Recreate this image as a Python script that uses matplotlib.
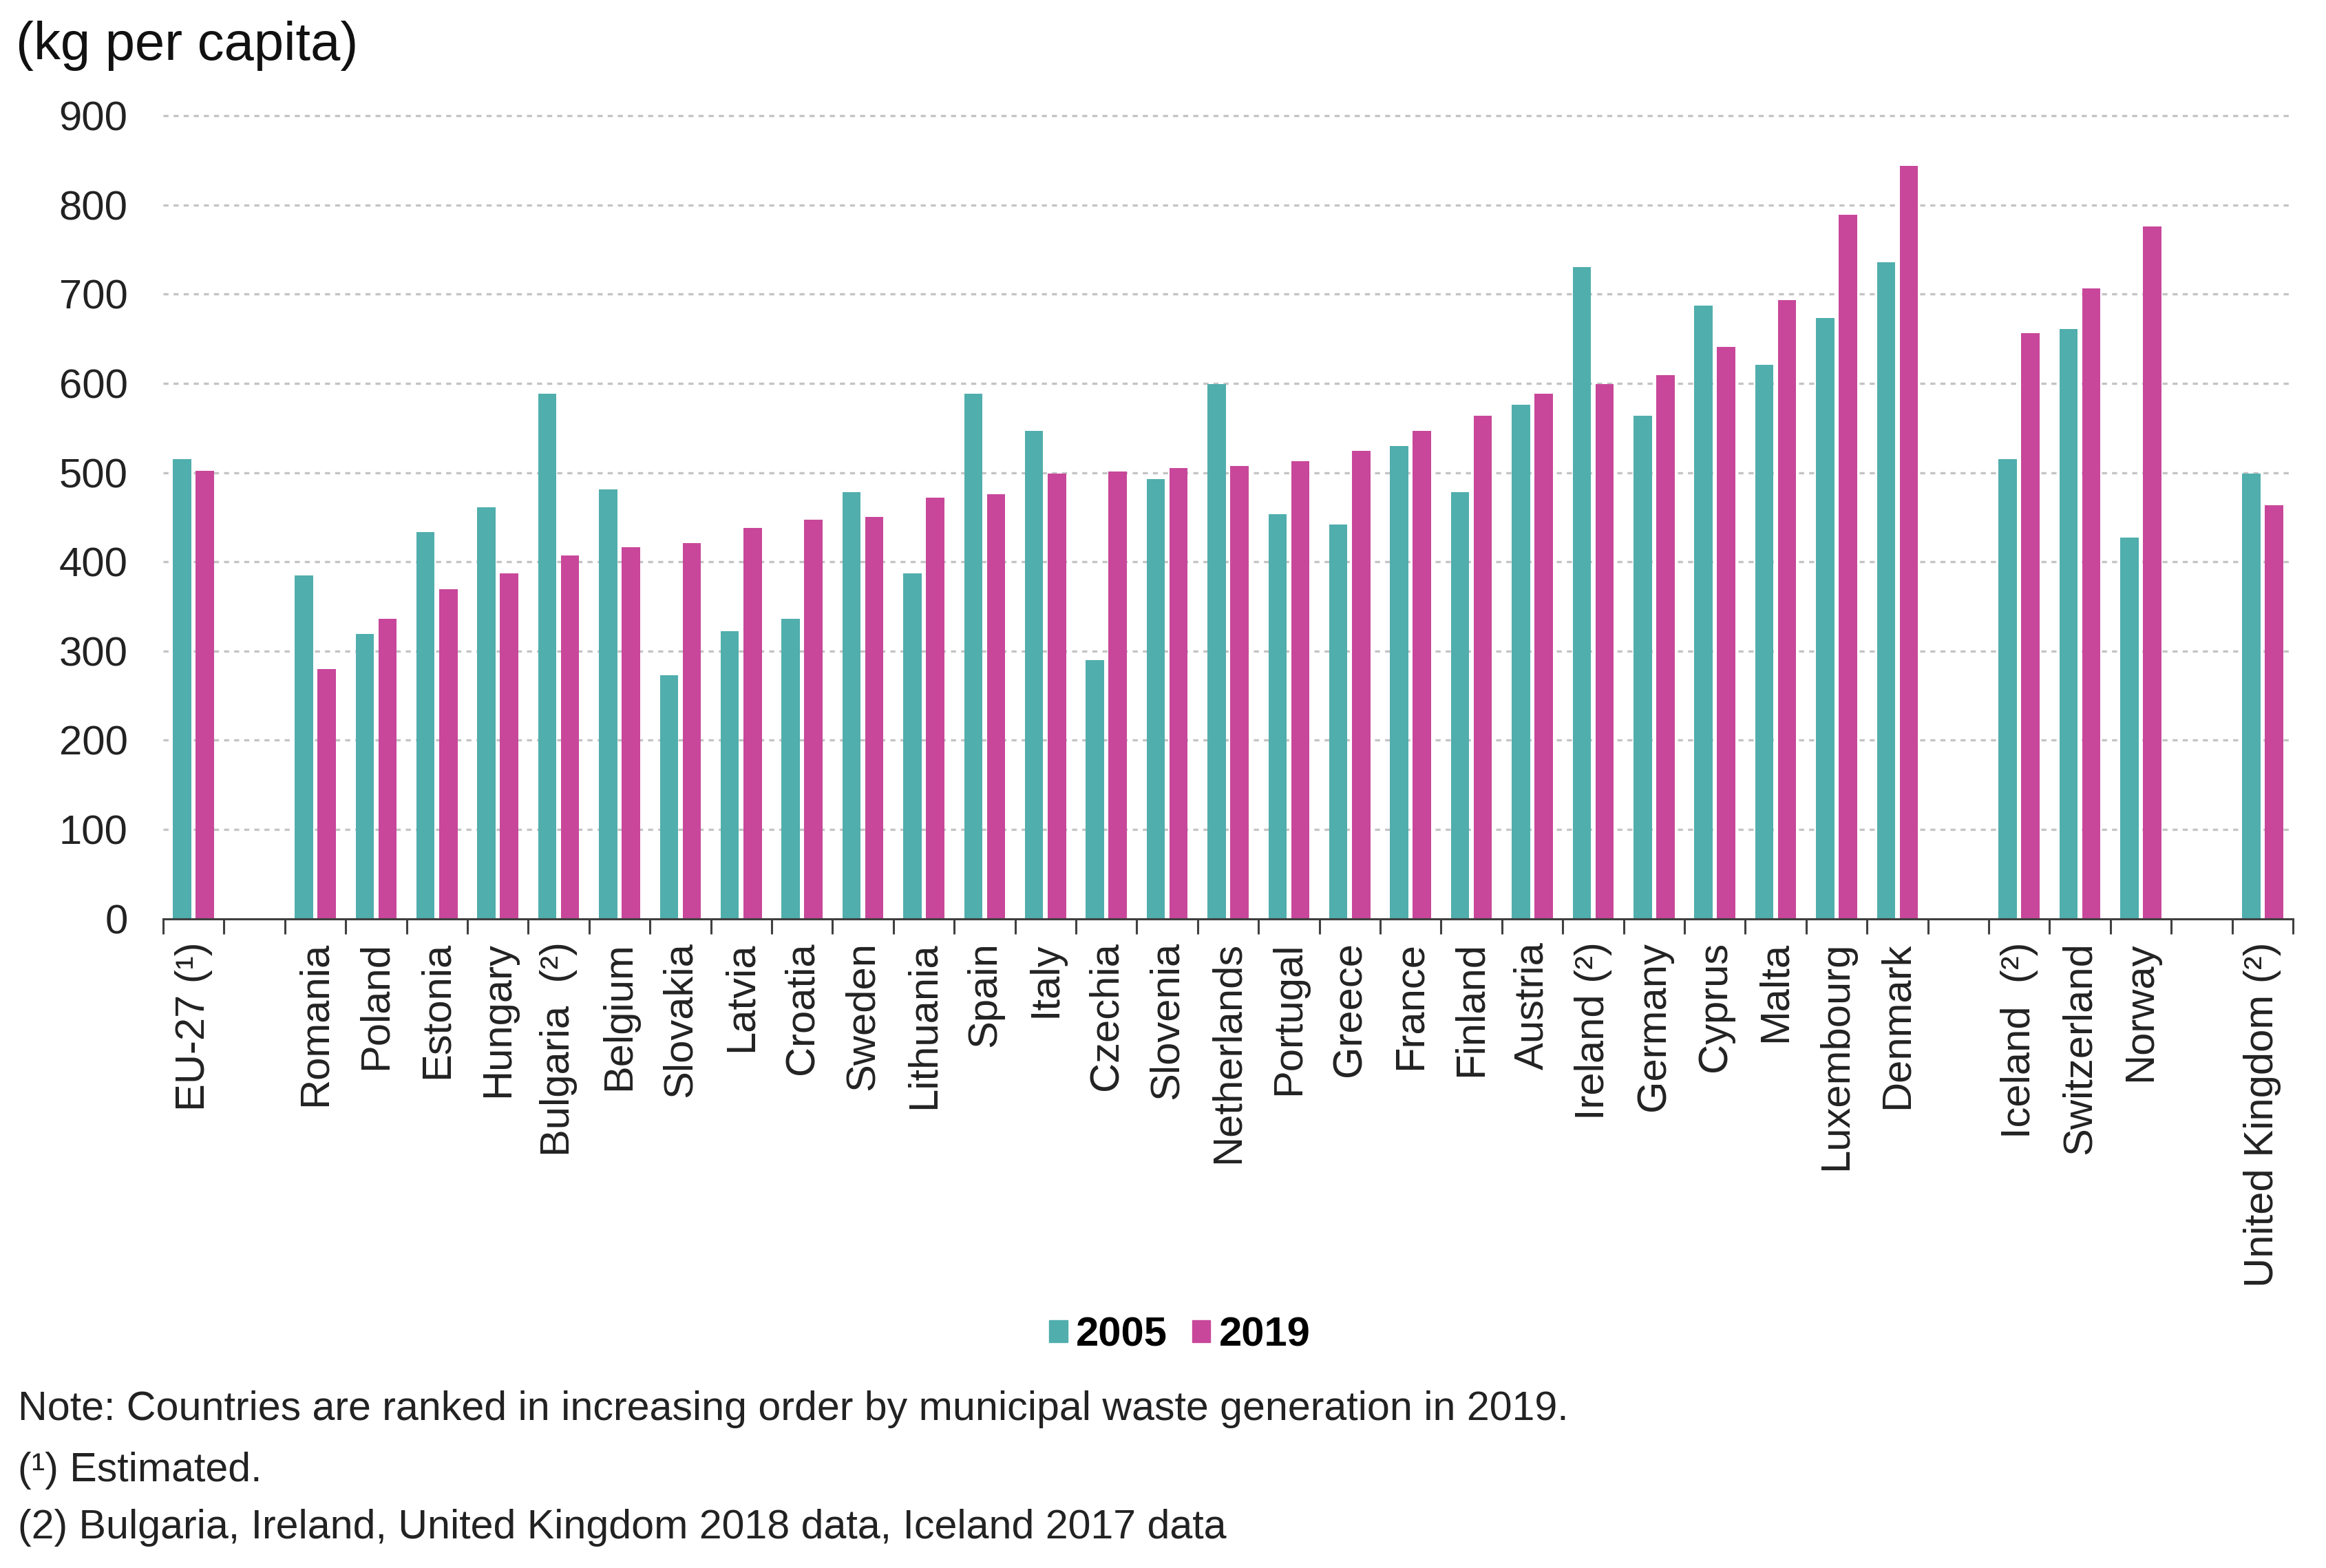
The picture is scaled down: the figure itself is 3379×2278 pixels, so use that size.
import numpy as np
import matplotlib
matplotlib.use("Agg")
import matplotlib.pyplot as plt
from matplotlib.patches import Patch

plt.rcParams['font.family'] = ['Liberation Sans', 'DejaVu Sans']

# groups of countries, each group separated by an empty slot
eu_labels = ['EU-27 (¹)']
eu_2005 = [515]
eu_2019 = [502]

member_labels = ['Romania', 'Poland', 'Estonia', 'Hungary', 'Bulgaria  (²)', 'Belgium',
                 'Slovakia', 'Latvia', 'Croatia', 'Sweden', 'Lithuania', 'Spain', 'Italy',
                 'Czechia', 'Slovenia', 'Netherlands', 'Portugal', 'Greece', 'France',
                 'Finland', 'Austria', 'Ireland (²)', 'Germany', 'Cyprus', 'Malta',
                 'Luxembourg', 'Denmark']
member_2005 = [385, 319, 433, 461, 588, 481, 273, 322, 336, 478, 387, 588, 547, 290,
               493, 599, 453, 442, 530, 478, 576, 730, 564, 687, 621, 673, 736]
member_2019 = [280, 336, 369, 387, 407, 416, 421, 438, 447, 450, 472, 476, 499, 501,
               505, 507, 513, 524, 547, 564, 588, 599, 609, 641, 693, 789, 844]

efta_labels = ['Iceland  (²)', 'Switzerland', 'Norway']
efta_2005 = [515, 661, 427]
efta_2019 = [656, 706, 776]

uk_labels = ['United Kingdom (²)']
uk_2005 = [499]
uk_2019 = [463]

years = ['2005', '2019']
teal = '#50AEAD'
magenta = '#C8479A'

groups = [(eu_labels, eu_2005, eu_2019),
          (member_labels, member_2005, member_2019),
          (efta_labels, efta_2005, efta_2019),
          (uk_labels, uk_2005, uk_2019)]

pos, labels, v05, v19 = [], [], [], []
x = 0
for lab, a, b in groups:
    for i in range(len(lab)):
        pos.append(x)
        labels.append(lab[i])
        v05.append(a[i])
        v19.append(b[i])
        x += 1
    x += 1  # empty slot between groups
nslots = x - 1
pos = np.array(pos)

fig = plt.figure(figsize=(33.8, 22.78), dpi=100)
ax = fig.add_axes([0.0701, 0.4141, 0.9154, 0.5150])

w = 0.30
off = 0.187
ax.bar(pos - off, v05, width=w, color=teal, zorder=3)
ax.bar(pos + off, v19, width=w, color=magenta, zorder=3)

ax.set_xlim(-0.5, nslots - 0.5)
ax.set_ylim(0, 905)
ax.set_yticks(range(0, 1000, 100))
ax.tick_params(axis='y', length=0, pad=37, labelsize=43, labelcolor='#222222')

ax.set_xticks(pos)
ax.set_xticklabels(labels, rotation=90, ha='center', va='top', fontsize=43, color='#222222')
ax.set_xticks(np.arange(-0.5, nslots, 1), minor=True)
ax.tick_params(axis='x', which='major', length=0, pad=24)
ax.tick_params(axis='x', which='minor', length=16, width=2.2, color='#404040')

for s in ['top', 'right', 'left']:
    ax.spines[s].set_visible(False)
ax.spines['bottom'].set_color('#404040')
ax.spines['bottom'].set_linewidth(2.2)
ax.spines['bottom'].set_zorder(4)

for v in range(100, 1000, 100):
    ax.axhline(v, color='#C4C4C4', linewidth=2.4, linestyle=(0, (2.2, 2.2)), zorder=1)

fig.text(0.0068, 0.9706, '(kg per capita)', fontsize=56, va='center', ha='left', color='#111111')

handles = [Patch(color=teal), Patch(color=magenta)]
fig.legend(handles, years, loc='center', bbox_to_anchor=(0.507, 0.1484), ncol=2, frameon=False,
           prop={'size': 43, 'weight': 'bold'}, handlelength=0.45, handleheight=0.45,
           handletextpad=0.2, columnspacing=0.6)

notes = ['Note: Countries are ranked in increasing order by municipal waste generation in 2019.',
         '(¹) Estimated.',
         '(2) Bulgaria, Ireland, United Kingdom 2018 data, Iceland 2017 data']
for t, y in zip(notes, [0.1010, 0.0623, 0.0255]):
    fig.text(0.0077, y, t, fontsize=42.6, va='center', ha='left', color='#222222')

fig.savefig('out.png', dpi=100, facecolor='white')
